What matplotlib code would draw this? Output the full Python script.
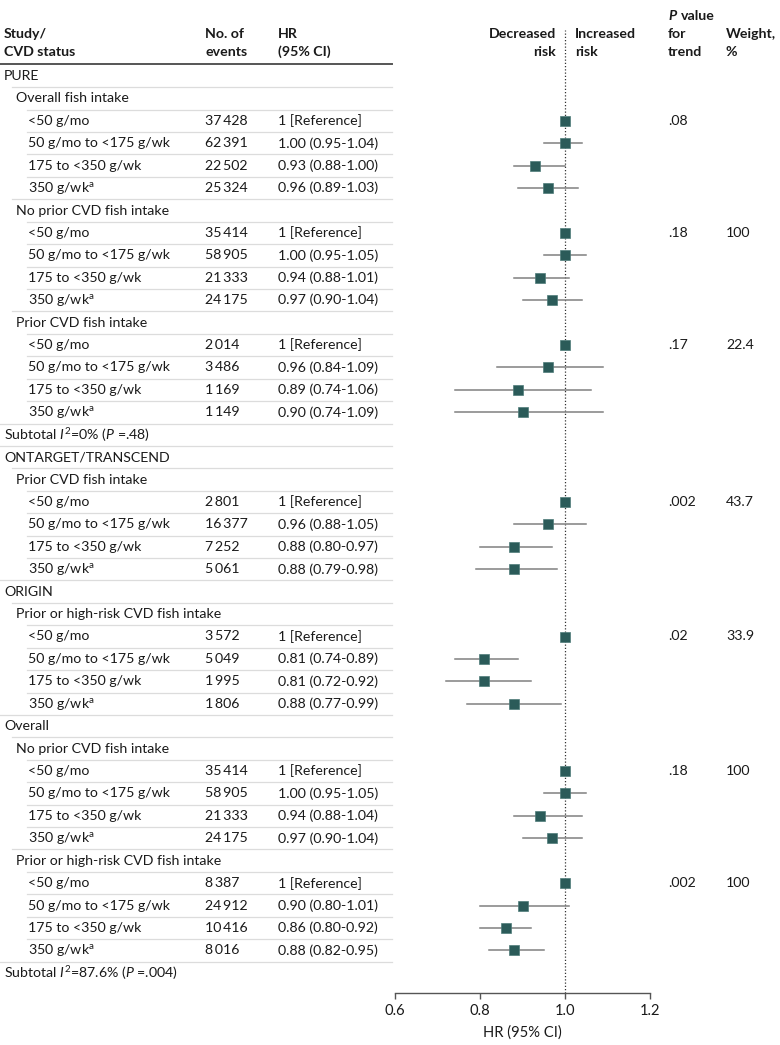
"""
Forest plot: fish intake and CVD events (HR, 95% CI) by study and CVD status.
"""
import matplotlib
matplotlib.use('Agg')
import matplotlib.pyplot as plt
from matplotlib.transforms import blended_transform_factory

plt.rcParams['font.family'] = ['Lato', 'DejaVu Sans']
plt.rcParams['mathtext.fontset'] = 'custom'
plt.rcParams['mathtext.rm'] = 'Lato'
plt.rcParams['mathtext.it'] = 'Lato:italic'

# --- данные -----------------------------------------------------------------
A = r'350 g/wk$^{\mathrm{a}}$'
labels = ['PURE', 'Overall fish intake', '<50 g/mo', '50 g/mo to <175 g/wk', '175 to <350 g/wk', A,
          'No prior CVD fish intake', '<50 g/mo', '50 g/mo to <175 g/wk', '175 to <350 g/wk', A,
          'Prior CVD fish intake', '<50 g/mo', '50 g/mo to <175 g/wk', '175 to <350 g/wk', A,
          r'Subtotal $I^2$=0% ($P$ =.48)',
          'ONTARGET/TRANSCEND', 'Prior CVD fish intake', '<50 g/mo', '50 g/mo to <175 g/wk',
          '175 to <350 g/wk', A,
          'ORIGIN', 'Prior or high-risk CVD fish intake', '<50 g/mo', '50 g/mo to <175 g/wk',
          '175 to <350 g/wk', A,
          'Overall', 'No prior CVD fish intake', '<50 g/mo', '50 g/mo to <175 g/wk', '175 to <350 g/wk', A,
          'Prior or high-risk CVD fish intake', '<50 g/mo', '50 g/mo to <175 g/wk', '175 to <350 g/wk', A,
          r'Subtotal $I^2$=87.6% ($P$ =.004)']
levels = [0, 1, 2, 2, 2, 2, 1, 2, 2, 2, 2, 1, 2, 2, 2, 2, 0,
          0, 1, 2, 2, 2, 2,
          0, 1, 2, 2, 2, 2,
          0, 1, 2, 2, 2, 2, 1, 2, 2, 2, 2, 0]
events = [None, None, 37428, 62391, 22502, 25324, None, 35414, 58905, 21333, 24175,
          None, 2014, 3486, 1169, 1149, None,
          None, None, 2801, 16377, 7252, 5061,
          None, None, 3572, 5049, 1995, 1806,
          None, None, 35414, 58905, 21333, 24175, None, 8387, 24912, 10416, 8016, None]
hr = [None, None, 1, 1.00, 0.93, 0.96, None, 1, 1.00, 0.94, 0.97,
      None, 1, 0.96, 0.89, 0.90, None,
      None, None, 1, 0.96, 0.88, 0.88,
      None, None, 1, 0.81, 0.81, 0.88,
      None, None, 1, 1.00, 0.94, 0.97, None, 1, 0.90, 0.86, 0.88, None]
lo = [None, None, None, 0.95, 0.88, 0.89, None, None, 0.95, 0.88, 0.90,
      None, None, 0.84, 0.74, 0.74, None,
      None, None, None, 0.88, 0.80, 0.79,
      None, None, None, 0.74, 0.72, 0.77,
      None, None, None, 0.95, 0.88, 0.90, None, None, 0.80, 0.80, 0.82, None]
hi = [None, None, None, 1.04, 1.00, 1.03, None, None, 1.05, 1.01, 1.04,
      None, None, 1.09, 1.06, 1.09, None,
      None, None, None, 1.05, 0.97, 0.98,
      None, None, None, 0.89, 0.92, 0.99,
      None, None, None, 1.05, 1.04, 1.04, None, None, 1.01, 0.92, 0.95, None]
p_trend = {2: '.08', 7: '.18', 12: '.17', 19: '.002', 25: '.02', 31: '.18', 36: '.002'}
weight = {7: '100', 12: '22.4', 19: '43.7', 25: '33.9', 31: '100', 36: '100'}

# --- геометрия (пиксели исходника 780x1045) ---------------------------------
W, H = 780, 1045
fx = lambda x: x / W
fy = lambda y: 1 - y / H
ROW0, STEP = 76, 22.42
AX_TOP, AX_BOT = 64, 993
TXT_X = [4, 16, 28]
LINE_X = [0, 12, 27]
FS = 10.2
INK = '#1a1a1a'
SQ = '#2b5b59'

fig = plt.figure(figsize=(W / 100, H / 100), dpi=100)
ax = fig.add_axes([fx(395), fy(AX_BOT), fx(650) - fx(395), (AX_BOT - AX_TOP) / H])
n = len(labels)
ax.set_xlim(0.6, 1.2)
ax.set_ylim((AX_BOT - ROW0) / STEP, -(ROW0 - AX_TOP) / STEP)
for s in ['top', 'left', 'right']:
    ax.spines[s].set_visible(False)
ax.spines['bottom'].set_color('#555555')
ax.spines['bottom'].set_linewidth(1.0)
ax.set_yticks([])
ax.set_xticks([0.6, 0.8, 1.0, 1.2])
ax.set_xticklabels(['0.6', '0.8', '1.0', '1.2'], fontsize=FS + 0.4, color=INK)
ax.tick_params(axis='x', length=4, width=1.0, color='#555555', pad=4)
ax.set_xlabel('HR (95% CI)', fontsize=FS + 0.4, labelpad=5, color=INK)
ax.patch.set_alpha(0)

ax.axvline(1.0, ymin=0, ymax=(AX_BOT - 30) / (AX_BOT - AX_TOP), color='#333333',
           lw=0.9, ls=(0, (1, 1.6)), clip_on=False, zorder=1)

for i in range(n):
    if hr[i] is None:
        continue
    if lo[i] is not None:
        ax.plot([lo[i], hi[i]], [i, i], color='#808080', lw=1.1, zorder=2)
    ax.plot(hr[i], i, marker='s', ms=7.6, color=SQ, mec='#4f7c7a', mew=0.5, zorder=3)

# --- таблица слева/справа ---------------------------------------------------
tr = blended_transform_factory(fig.transFigure, ax.transData)
cell = dict(transform=tr, fontsize=FS, va='center', color=INK, clip_on=False)
for i in range(n):
    ax.text(fx(TXT_X[levels[i]]), i, labels[i], ha='left', **cell)
    if events[i] is not None:
        ev = f'{events[i]:,}'.replace(',', '\u2009')
        ax.text(fx(205), i, ev, **cell)
        txt = '1 [Reference]' if lo[i] is None else f'{hr[i]:.2f} ({lo[i]:.2f}-{hi[i]:.2f})'
        ax.text(fx(278), i, txt, **cell)
    if i in p_trend:
        ax.text(fx(668), i, p_trend[i], **cell)
    if i in weight:
        ax.text(fx(726), i, weight[i], **cell)
    if i < n - 1:
        ax.plot([fx(LINE_X[levels[i + 1]]), fx(392)], [i + 0.5, i + 0.5], transform=tr,
                color='#dcdcdc', lw=0.9, clip_on=False, zorder=0)

# шапка
fig.add_artist(plt.Line2D([0, fx(392)], [fy(AX_TOP), fy(AX_TOP)], color='#555555', lw=1.4))
hdr = dict(fontsize=FS, fontweight='bold', va='center', color=INK)
fig.text(fx(4), fy(34), 'Study/', **hdr)
fig.text(fx(4), fy(52), 'CVD status', **hdr)
fig.text(fx(205), fy(34), 'No. of', **hdr)
fig.text(fx(205), fy(52), 'events', **hdr)
fig.text(fx(278), fy(34), 'HR', **hdr)
fig.text(fx(278), fy(52), '(95% CI)', **hdr)
fig.text(fx(556), fy(34), 'Decreased', ha='right', **hdr)
fig.text(fx(556), fy(52), 'risk', ha='right', **hdr)
fig.text(fx(575), fy(34), 'Increased', ha='left', **hdr)
fig.text(fx(575), fy(52), 'risk', ha='left', **hdr)
fig.text(fx(668), fy(16), 'P', fontstyle='italic', **hdr)
fig.text(fx(681), fy(16), 'value', **hdr)
fig.text(fx(668), fy(34), 'for', **hdr)
fig.text(fx(668), fy(52), 'trend', **hdr)
fig.text(fx(726), fy(34), 'Weight,', **hdr)
fig.text(fx(726), fy(52), '%', **hdr)

fig.savefig('out.png', dpi=100)
